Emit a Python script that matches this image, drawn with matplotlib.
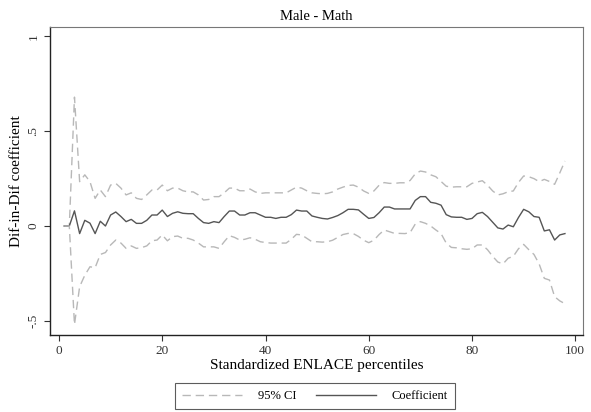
import numpy as np
from matplotlib import pyplot as plt

plt.rcParams["font.family"] = ["Liberation Serif", "DejaVu Serif"]

percentile = np.arange(1, 99)

coef = [
    0.0, 0.0, 0.08, -0.04, 0.03, 0.015, -0.04, 0.025, 0.0, 0.058,
    0.074, 0.05, 0.023, 0.035, 0.014, 0.014, 0.03, 0.058, 0.058, 0.084,
    0.05, 0.067, 0.075, 0.067, 0.065, 0.065, 0.04, 0.018, 0.014, 0.023,
    0.018, 0.05, 0.079, 0.079, 0.058, 0.058, 0.07, 0.07, 0.058, 0.046,
    0.046, 0.04, 0.046, 0.046, 0.06, 0.084, 0.079, 0.079, 0.053, 0.046,
    0.04, 0.037, 0.045, 0.055, 0.07, 0.088, 0.088, 0.085, 0.062, 0.04,
    0.045, 0.07, 0.10, 0.10, 0.09, 0.09, 0.09, 0.09, 0.135, 0.155,
    0.155, 0.125, 0.12, 0.11, 0.06, 0.048, 0.046, 0.046, 0.035, 0.04,
    0.065, 0.072, 0.05, 0.02, -0.01, -0.016, 0.005, -0.004, 0.045, 0.088,
    0.075, 0.05, 0.046, -0.026, -0.02, -0.074, -0.047, -0.04,
]

ci_upper = [
    0.0, 0.0, 0.68, 0.234, 0.27, 0.234, 0.146, 0.19, 0.155, 0.216,
    0.225, 0.2, 0.164, 0.175, 0.146, 0.14, 0.164, 0.19, 0.19, 0.216,
    0.186, 0.2, 0.2, 0.186, 0.18, 0.18, 0.164, 0.137, 0.14, 0.155,
    0.155, 0.175, 0.2, 0.2, 0.186, 0.186, 0.195, 0.18, 0.172, 0.175,
    0.175, 0.175, 0.175, 0.175, 0.19, 0.205, 0.2, 0.186, 0.175, 0.172,
    0.17, 0.172, 0.18, 0.195, 0.205, 0.214, 0.216, 0.205, 0.185, 0.172,
    0.185, 0.215, 0.229, 0.225, 0.225, 0.228, 0.228, 0.24, 0.275, 0.29,
    0.285, 0.27, 0.26, 0.235, 0.21, 0.205, 0.207, 0.207, 0.207, 0.225,
    0.232, 0.239, 0.215, 0.185, 0.164, 0.17, 0.181, 0.185, 0.23, 0.264,
    0.26, 0.25, 0.234, 0.246, 0.235, 0.22, 0.28, 0.343,
]

ci_lower = [
    0.0, 0.0, -0.52, -0.32, -0.26, -0.215, -0.22, -0.15, -0.14, -0.10,
    -0.074, -0.09, -0.118, -0.105, -0.118, -0.114, -0.105, -0.078, -0.074, -0.047,
    -0.078, -0.056, -0.053, -0.065, -0.065, -0.074, -0.09, -0.11, -0.11, -0.11,
    -0.118, -0.083, -0.051, -0.06, -0.074, -0.07, -0.062, -0.07, -0.083, -0.087,
    -0.09, -0.09, -0.09, -0.09, -0.07, -0.044, -0.047, -0.065, -0.083, -0.083,
    -0.085, -0.083, -0.075, -0.06, -0.045, -0.039, -0.04, -0.055, -0.075, -0.088,
    -0.075, -0.045, -0.021, -0.03, -0.039, -0.039, -0.04, -0.035, 0.01, 0.023,
    0.014, 0.0, -0.021, -0.04, -0.09, -0.113, -0.115, -0.12, -0.123, -0.12,
    -0.1, -0.1, -0.125, -0.16, -0.19, -0.2, -0.17, -0.16, -0.12, -0.097,
    -0.125, -0.15, -0.2, -0.276, -0.285, -0.373, -0.395, -0.41,
]

fig = plt.figure(figsize=(5.91, 4.12), dpi=100)
ax = fig.add_axes([0.0846, 0.1869, 0.9019, 0.7476])

dash = (0, (6, 3.5))
ax.plot(percentile, ci_upper, color="#b8b8b8", lw=1.0, linestyle=dash, label="95% CI")
ax.plot(percentile, coef, color="#555555", lw=1.0, label="Coefficient")
ax.plot(percentile, ci_lower, color="#b8b8b8", lw=1.0, linestyle=dash)

ax.set_xlim(-1.74, 101.5)
ax.set_ylim(-0.575, 1.05)
ax.set_xticks([0, 20, 40, 60, 80, 100])
ax.set_yticks([-0.5, 0, 0.5, 1])
ax.set_yticklabels(["-.5", "0", ".5", "1"], rotation=90, va="center")
ax.tick_params(labelsize=9.5, colors="#333333", length=4, width=0.8)

for side in ["left", "bottom"]:
    ax.spines[side].set_color("#222222")
    ax.spines[side].set_linewidth(1.0)
for side in ["top", "right"]:
    ax.spines[side].set_color("#777777")
    ax.spines[side].set_linewidth(0.8)

ax.set_title("Male - Math", fontsize=10.5, pad=5)
ax.set_xlabel("Standardized ENLACE percentiles", fontsize=11, labelpad=1)
ax.set_ylabel("Dif-in-Dif coefficient", fontsize=11, labelpad=3)

leg = fig.legend(loc="center", bbox_to_anchor=(0.533, 0.039), ncol=2,
                 fontsize=9, frameon=True, fancybox=False, handlelength=4.8,
                 handletextpad=1.3, columnspacing=1.5, borderpad=0.55,
                 borderaxespad=0)
leg.get_frame().set_edgecolor("#333333")
leg.get_frame().set_linewidth(0.8)

fig.savefig("out.png", dpi=100)
